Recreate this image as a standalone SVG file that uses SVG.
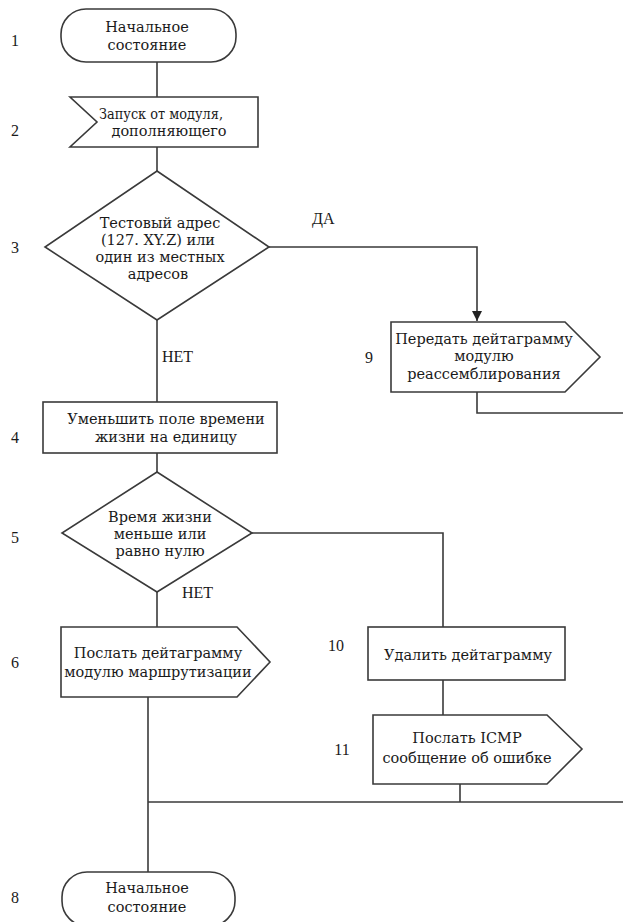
<svg xmlns="http://www.w3.org/2000/svg" width="623" height="922" viewBox="0 0 623 922">
  <style>
    .shape { fill: #ffffff; stroke: #3a3a3a; stroke-width: 1.6; }
    .wire { fill: none; stroke: #3a3a3a; stroke-width: 1.6; }
    .t { font-family: "DejaVu Serif", "Liberation Serif", serif; font-size: 14.5px; fill: #1a1a1a; text-anchor: middle; dominant-baseline: central; }
    .num { font-family: "Liberation Serif", "Times New Roman", serif; font-size: 16px; fill: #1a1a1a; text-anchor: middle; dominant-baseline: central; }
    .lbl { font-family: "Liberation Serif", "Times New Roman", serif; font-size: 16px; fill: #1a1a1a; dominant-baseline: central; }
  </style>
  <defs>
    <marker id="arrow" viewBox="0 0 10 10" refX="10" refY="5" markerWidth="10" markerHeight="10" markerUnits="userSpaceOnUse" orient="auto">
      <path d="M0,0 L10,5 L0,10 Z" fill="#222"/>
    </marker>
  </defs>
  <rect width="623" height="922" fill="#ffffff"/>

  <!-- connectors -->
  <g id="connectors">
    <line class="wire" x1="157" y1="62" x2="157" y2="97"/>
    <line class="wire" x1="157" y1="147" x2="157" y2="171"/>
    <polyline class="wire" points="269,247 477,247 477,321" marker-end="url(#arrow)"/>
    <polyline class="wire" points="477,392 477,413 623,413"/>
    <line class="wire" x1="157" y1="320" x2="157" y2="402"/>
    <line class="wire" x1="157" y1="453" x2="157" y2="472"/>
    <polyline class="wire" points="252,533 443,533 443,627"/>
    <line class="wire" x1="443" y1="680" x2="443" y2="715"/>
    <line class="wire" x1="460" y1="784" x2="460" y2="802"/>
    <line class="wire" x1="148" y1="802" x2="623" y2="802"/>
    <line class="wire" x1="157" y1="592" x2="157" y2="627"/>
    <line class="wire" x1="148" y1="697" x2="148" y2="872"/>
    <text class="lbl" x="312" y="218">ДА</text>
    <text class="lbl" x="162" y="356">НЕТ</text>
    <text class="lbl" x="182" y="592">НЕТ</text>
  </g>

  <!-- step numbers -->
  <g id="numbers">
    <text class="num" x="15" y="40">1</text>
    <text class="num" x="15" y="130">2</text>
    <text class="num" x="15" y="247">3</text>
    <text class="num" x="15" y="437">4</text>
    <text class="num" x="15" y="537">5</text>
    <text class="num" x="15" y="662">6</text>
    <text class="num" x="15" y="897">8</text>
    <text class="num" x="369" y="357">9</text>
    <text class="num" x="336" y="645">10</text>
    <text class="num" x="342" y="749">11</text>
  </g>

  <g id="n1">
    <rect class="shape" x="61" y="9" width="175" height="53" rx="25" ry="25"/>
    <text class="t" x="147" y="27">Начальное</text>
    <text class="t" x="147" y="45">состояние</text>
  </g>

  <g id="n2">
    <polygon class="shape" points="70,97 258,97 258,147 70,147 97,122"/>
    <text class="t" x="161" y="114" textLength="124" lengthAdjust="spacingAndGlyphs">Запуск от модуля,</text>
    <text class="t" x="169" y="131">дополняющего</text>
  </g>

  <g id="n3">
    <polygon class="shape" points="157,171 269,247 157,320 45,247"/>
    <text class="t" x="160" y="223">Тестовый адрес</text>
    <text class="t" x="158" y="240">(127. XY.Z) или</text>
    <text class="t" x="160" y="257">один из местных</text>
    <text class="t" x="158" y="274">адресов</text>
  </g>

  <g id="n9">
    <polygon class="shape" points="391,322 565,322 600,357 565,392 391,392"/>
    <text class="t" x="484" y="339">Передать дейтаграмму</text>
    <text class="t" x="484" y="356">модулю</text>
    <text class="t" x="484" y="374">реассемблирования</text>
  </g>

  <g id="n4">
    <rect class="shape" x="43" y="402" width="234" height="51"/>
    <text class="t" x="166" y="419">Уменьшить поле времени</text>
    <text class="t" x="166" y="437">жизни на единицу</text>
  </g>

  <g id="n5">
    <polygon class="shape" points="157,472 252,533 157,592 62,533"/>
    <text class="t" x="160" y="517">Время жизни</text>
    <text class="t" x="160" y="534">меньше или</text>
    <text class="t" x="160" y="551">равно нулю</text>
  </g>

  <g id="n6">
    <polygon class="shape" points="61,627 237,627 270,662 237,697 61,697"/>
    <text class="t" x="158" y="653">Послать дейтаграмму</text>
    <text class="t" x="158" y="672">модулю маршрутизации</text>
  </g>

  <g id="n10">
    <rect class="shape" x="368" y="627" width="197" height="53"/>
    <text class="t" x="468" y="655">Удалить дейтаграмму</text>
  </g>

  <g id="n11">
    <polygon class="shape" points="373,715 547,715 582,749 547,784 373,784"/>
    <text class="t" x="467" y="738">Послать ICMP</text>
    <text class="t" x="467" y="758">сообщение об ошибке</text>
  </g>

  <g id="n8">
    <rect class="shape" x="62" y="872" width="173" height="54" rx="25" ry="25"/>
    <text class="t" x="147" y="888">Начальное</text>
    <text class="t" x="147" y="907">состояние</text>
  </g>
</svg>
